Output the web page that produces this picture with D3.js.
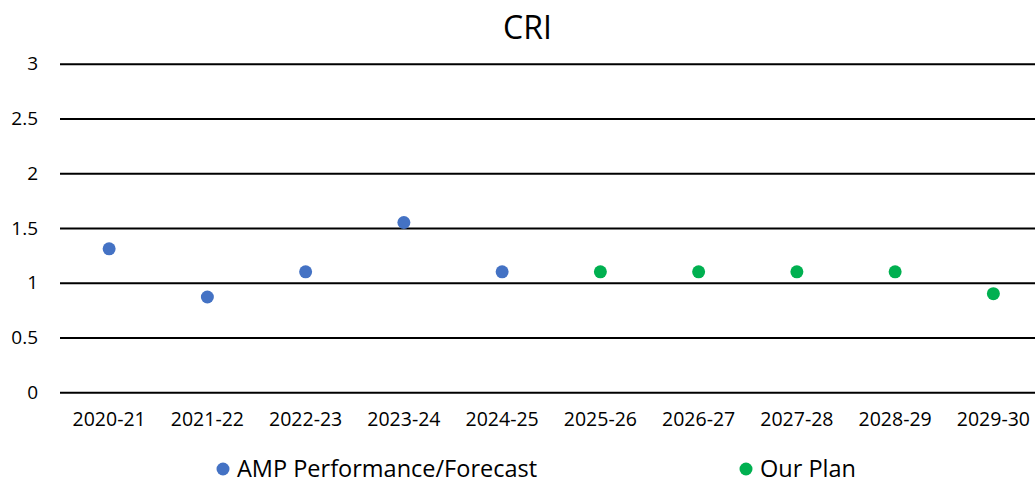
<!DOCTYPE html>
<html>
<head>
<meta charset="utf-8">
<script src="https://cdn.jsdelivr.net/npm/d3@7"></script>
<style>
  body { margin: 0; background: #fff; }
  svg { display: block; font-family: "Open Sans", sans-serif; }
</style>
</head>
<body>
<svg id="chart" width="1035" height="483"></svg>
<script>
// chart values
const years = ["2020-21", "2021-22", "2022-23", "2023-24", "2024-25",
               "2025-26", "2026-27", "2027-28", "2028-29", "2029-30"];
const ampYears = ["2020-21", "2021-22", "2022-23", "2023-24", "2024-25"];
const ampValues = [1.31, 0.87, 1.1, 1.55, 1.1];
const planYears = ["2025-26", "2026-27", "2027-28", "2028-29", "2029-30"];
const planValues = [1.1, 1.1, 1.1, 1.1, 0.9];
const yTicks = [0, 0.5, 1, 1.5, 2, 2.5, 3];
const seriesNames = ["AMP Performance/Forecast", "Our Plan"];

const ctx = {
    WIDTH: 1035,
    HEIGHT: 483,
    LEFT: 60,
    RIGHT: 1042.5,
    TOP: 63.7,
    BOTTOM: 392.3,
    DOT_R: 6.5,
    BLUE: "#4472C4",
    GREEN: "#00B050",
    FONT_SIZE: "19px",
    X_FONT_SIZE: "19.5px",
    LEGEND_FONT_SIZE: "23.5px",
};

const svg = d3.select("#chart");

const x = d3.scaleBand().domain(years).range([ctx.LEFT, ctx.RIGHT]);
const y = d3.scaleLinear().domain([0, 3]).range([ctx.BOTTOM, ctx.TOP]);

// title
svg.append("text")
    .attr("x", 527.5)
    .attr("y", 39)
    .attr("text-anchor", "middle")
    .style("font-size", "32px")
    .style("fill", "#000")
    .text("CRI");

// gridlines + y labels
const yAxis = svg.append("g")
    .attr("transform", `translate(${ctx.LEFT},0)`)
    .call(d3.axisLeft(y).tickValues(yTicks).tickSize(-(ctx.WIDTH - ctx.LEFT)).tickPadding(22)
        .tickFormat(d3.format("")));
yAxis.select(".domain").remove();
yAxis.selectAll(".tick line").attr("stroke", "#000").attr("stroke-width", 2);
yAxis.selectAll(".tick text")
    .style("font-size", ctx.FONT_SIZE)
    .style("font-family", "Open Sans, sans-serif")
    .attr("fill", "#000");

// x labels
const xAxis = svg.append("g")
    .attr("transform", `translate(0,${ctx.BOTTOM})`)
    .call(d3.axisBottom(x).tickSize(0).tickPadding(20));
xAxis.select(".domain").remove();
xAxis.selectAll(".tick text")
    .style("font-size", ctx.X_FONT_SIZE)
    .style("font-family", "Open Sans, sans-serif")
    .attr("fill", "#000");

// points
svg.append("g").selectAll("circle")
    .data(ampYears.map((d, i) => ({ year: d, value: ampValues[i] })))
    .enter()
    .append("circle")
    .attr("cx", d => x(d.year) + x.bandwidth() / 2)
    .attr("cy", d => y(d.value))
    .attr("r", ctx.DOT_R)
    .attr("fill", ctx.BLUE);

svg.append("g").selectAll("circle")
    .data(planYears.map((d, i) => ({ year: d, value: planValues[i] })))
    .enter()
    .append("circle")
    .attr("cx", d => x(d.year) + x.bandwidth() / 2)
    .attr("cy", d => y(d.value))
    .attr("r", ctx.DOT_R)
    .attr("fill", ctx.GREEN);

// legend (nudged up a little so the text box stays inside the picture)
const legendItems = [
    { name: seriesNames[0], color: ctx.BLUE, x: 223 },
    { name: seriesNames[1], color: ctx.GREEN, x: 746 },
];
const legend = svg.append("g").selectAll("g")
    .data(legendItems)
    .enter()
    .append("g")
    .attr("transform", d => `translate(${d.x},469)`);
legend.append("circle")
    .attr("r", 6.5)
    .attr("fill", d => d.color);
legend.append("text")
    .attr("x", 14)
    .attr("y", 7.5)
    .style("font-size", ctx.LEGEND_FONT_SIZE)
    .style("fill", "#000")
    .text(d => d.name);
</script>
</body>
</html>
